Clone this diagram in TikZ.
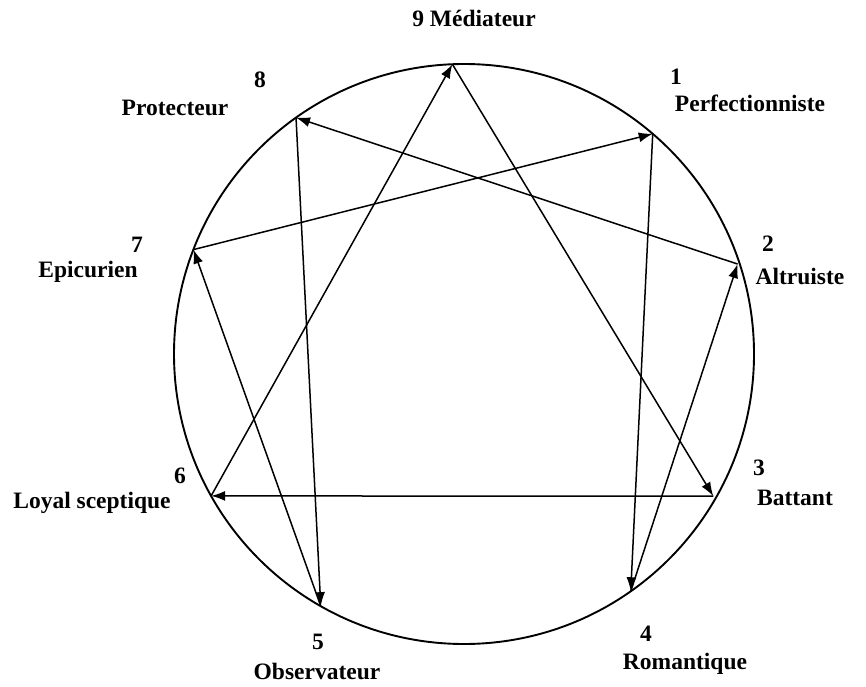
\documentclass[tikz,border=0pt]{standalone}
\usepackage{fontspec}
\setmainfont{Liberation Serif}
\usetikzlibrary{arrows.meta,calc}

\begin{document}
\begin{tikzpicture}[x=1pt,y=1pt,
    lbl/.style={font=\fontsize{23.5}{28}\selectfont\bfseries, inner sep=0pt},
    edge/.style={line width=1.5pt, -{Latex[length=14pt,width=10pt]}}]
\useasboundingbox (0,0) rectangle (866,686);
\draw[line width=1.9pt] (464,332) circle (290);
% points on the circle
\coordinate (p9) at ($(464,332)+(92.3:290)$);
\coordinate (p1) at ($(464,332)+(49.4:290)$);
\coordinate (p2) at ($(464,332)+(18.2:288)$);
\coordinate (p3) at ($(464,332)+(330.3:287)$);
\coordinate (p4) at ($(464,332)+(305.1:290)$);
\coordinate (p5) at ($(464,332)+(240.4:290)$);
\coordinate (p6) at ($(464,332)+(209.3:290)$);
\coordinate (p7) at ($(464,332)+(158.9:290)$);
\coordinate (p8) at ($(464,332)+(125.4:290)$);
% labels
\node[lbl] (l9) at (474,668) {9 Médiateur};
\node[lbl] (n8) at (260,606) {8};
\node[lbl] (l8) at (175,578) {Protecteur};
\node[lbl] (n1) at (676,609) {1};
\node[lbl] (l1) at (750,583) {Perfectionniste};
\node[lbl] (n7) at (137,441) {7};
\node[lbl] (l7) at (88,414) {Epicurien};
\node[lbl] (n2) at (768,442) {2};
\node[lbl] (l2) at (800,410) {Altruiste};
\node[lbl] (n3) at (759,218) {3};
\node[lbl] (l3) at (795,188) {Battant};
\node[lbl] (n6) at (180,210) {6};
\node[lbl] (l6) at (92,183) {Loyal sceptique};
\node[lbl] (n5) at (318,44) {5};
\node[lbl] (l5) at (317,15) {Observateur};
\node[lbl] (n4) at (646,52) {4};
\node[lbl] (l4) at (685,22) {Romantique};
% triangle
\draw[edge] (p6) -- (p9);
\draw[edge] (p9) -- (p3);
\draw[edge] (p3) -- (p6);
% hexad
\draw[edge] (p1) -- (p4);
\draw[edge] (p4) -- (p2);
\draw[edge] (p2) -- (p8);
\draw[edge] (p8) -- (p5);
\draw[edge] (p5) -- (p7);
\draw[edge] (p7) -- (p1);
\end{tikzpicture}
\end{document}
